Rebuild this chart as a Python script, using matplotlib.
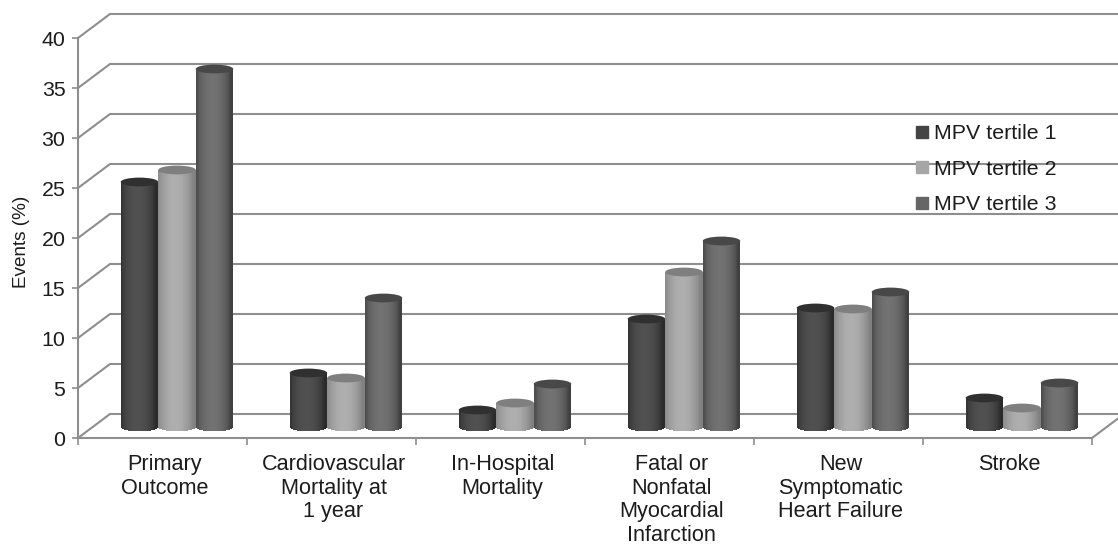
import numpy as np
import matplotlib
matplotlib.use("Agg")
import matplotlib.pyplot as plt
from matplotlib.lines import Line2D
from matplotlib.patches import Ellipse

categories = ["Primary\nOutcome", "Cardiovascular\nMortality at\n1 year", "In-Hospital\nMortality",
              "Fatal or\nNonfatal\nMyocardial\nInfarction", "New\nSymptomatic\nHeart Failure", "Stroke"]
tertile_1 = [24.5, 5.4, 1.7, 10.8, 11.9, 2.9]
tertile_2 = [25.7, 4.9, 2.4, 15.5, 11.8, 1.9]
tertile_3 = [35.8, 12.9, 4.3, 18.6, 13.5, 4.4]
series_names = ["MPV tertile 1", "MPV tertile 2", "MPV tertile 3"]
y_ticks = [0, 5, 10, 15, 20, 25, 30, 35, 40]

W, H = 1118, 547
FS = 15.4
TXT = "#1c1c1c"
plt.rcParams["font.family"] = ["Liberation Sans", "DejaVu Sans"]
fig = plt.figure(figsize=(W / 100, H / 100), dpi=100, facecolor="white")
ax = fig.add_axes([78 / W, 1 - 438 / H, (1092 - 78) / W, 400 / H])
ax.set_xlim(0, 6)
ax.set_ylim(0, 40)

GRID = "#8e8e8e"
DX, DY = 32 / 169, 2.4
for v in y_ticks:
    ax.plot([0, DX, 6 + DX], [v, v + DY, v + DY], color=GRID, lw=1.5, clip_on=False, zorder=1,
            solid_joinstyle="miter")
ax.plot([6, 6 + DX], [0, DY], color=GRID, lw=1.5, clip_on=False, zorder=1)

for s in ("top", "right"):
    ax.spines[s].set_visible(False)
for s in ("left", "bottom"):
    ax.spines[s].set_color(GRID)
    ax.spines[s].set_linewidth(1.5)
ax.set_yticks(y_ticks)
ax.set_xticks(np.arange(7))
ax.set_xticklabels([])
ax.set_xticks(np.arange(6) + 0.512, labels=categories, minor=True)
ax.tick_params(axis="x", which="major", length=5, width=1.2, color=GRID)
ax.tick_params(axis="x", which="minor", length=0, pad=11.5, labelsize=15.6, labelcolor=TXT)
ax.tick_params(axis="y", length=4, width=1.2, color=GRID, pad=5, labelsize=FS, labelcolor=TXT)
for t in ax.get_xticklabels(minor=True):
    t.set_linespacing(1.17)
ax.set_ylabel("Events (%)", fontsize=13.6, color=TXT)
ax.yaxis.set_label_coords((30 - 78) / 1014, 0.49)

BASE, RY, WIDTH = 1.1, 0.44, 0.222
SHIFT = 14.5 / 169
styles = [
    {"edge": 0x2a, "mid": 0x50, "top": "#303030"},
    {"edge": 0x80, "mid": 0xae, "top": "#7f7f7f"},
    {"edge": 0x40, "mid": 0x72, "top": "#484848"},
]
N = 40
u = (np.arange(N) + 0.5) / N * 2 - 1
for j, vals in enumerate([tertile_1, tertile_2, tertile_3]):
    st = styles[j]
    for i, val in enumerate(vals):
        cx = i + 0.5 + SHIFT + (j - 1) * WIDTH
        xs = cx + u * WIDTH / 2
        sag = RY * np.sqrt(1 - u ** 2)
        shade = st["edge"] + (st["mid"] - st["edge"]) * (1 - np.abs(u + 0.1) ** 2.2).clip(0, 1)
        cols = [(s / 255, s / 255, s / 255) for s in shade]
        ax.bar(xs, val + sag, bottom=BASE - sag, width=WIDTH / N * 1.15, color=cols,
               linewidth=0, zorder=3 + j * 0.1, clip_on=False)
        ax.add_patch(Ellipse((cx, BASE + val), WIDTH, 2 * RY, facecolor=st["top"], edgecolor="none",
                             zorder=3.05 + j * 0.1, clip_on=False))

handles = [Line2D([], [], ls="none", marker="s", ms=9, color=c)
           for c in ("#444444", "#a6a6a6", "#666666")]
leg = ax.legend(handles, series_names, frameon=False, fontsize=FS, labelcolor=TXT,
                loc="upper left", bbox_to_anchor=(913 / W, 1 - 124 / H),
                bbox_transform=fig.transFigure, labelspacing=0.78, handlelength=0.85,
                handletextpad=0.15, borderpad=0, borderaxespad=0)
leg.set_zorder(5)

fig.savefig("out.png", dpi=100, facecolor="white")
